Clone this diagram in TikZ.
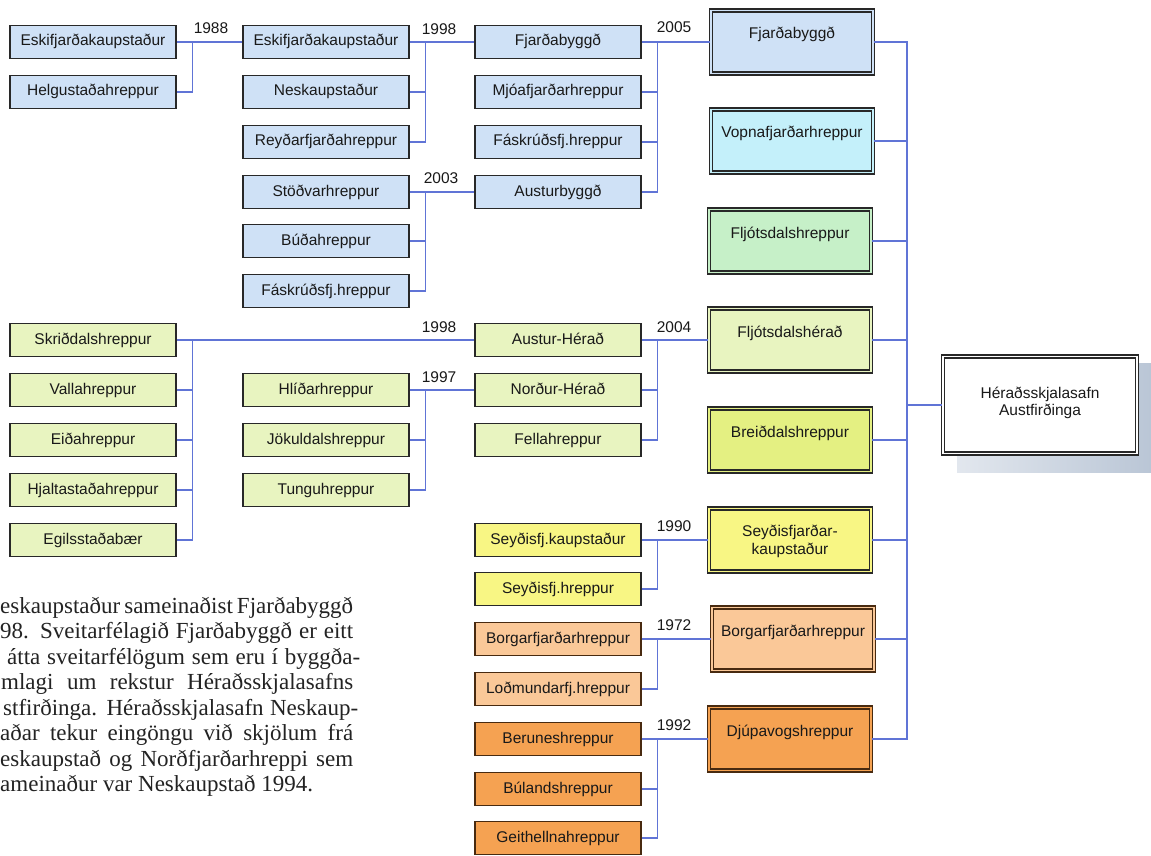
\documentclass[tikz,border=0pt]{standalone}
\usepackage{fontspec}
\setmainfont{Liberation Sans}
\newfontfamily\parfont{Liberation Serif}
\usetikzlibrary{calc}
\definecolor{lineC}{RGB}{96,116,214}
\definecolor{bordC}{RGB}{40,40,40}
\definecolor{bordO}{RGB}{72,42,16}
\definecolor{txtC}{RGB}{25,25,25}
\definecolor{parC}{RGB}{35,35,35}
\definecolor{blueF}{RGB}{207,225,246}
\definecolor{cyanF}{RGB}{196,240,250}
\definecolor{mintF}{RGB}{198,240,200}
\definecolor{lgreenF}{RGB}{232,244,192}
\definecolor{ygreenF}{RGB}{228,240,130}
\definecolor{yellowF}{RGB}{248,246,132}
\definecolor{peachF}{RGB}{250,200,152}
\definecolor{orangeF}{RGB}{245,162,82}
\definecolor{shadeA}{RGB}{226,231,238}
\definecolor{shadeB}{RGB}{186,198,214}
\tikzset{
  lblfont/.style={font=\fontsize{15.5}{17}\selectfont, text=txtC},
  sb/.style={rectangle, draw=bordC, line width=1.5pt, minimum width=166pt,
    minimum height=33pt, inner sep=0pt, fill=#1, lblfont,
    text height=11pt, text depth=3pt},
  sbo/.style={sb=#1, draw=bordO},
  bb/.style={rectangle, draw=bordC, line width=1.3pt, double=#1,
    double distance=1.6pt, fill=#1, minimum width=162pt,
    minimum height=63pt, inner sep=0pt},
  bbo/.style={bb=#1, draw=bordO},
  bt/.style={lblfont, inner sep=0pt, text height=11pt, text depth=3pt},
  bt2/.style={lblfont, inner sep=0pt, align=center,
    font=\fontsize{15.5}{18}\selectfont},
  conn/.style={draw=lineC, line width=1.2pt},
  yr/.style={lblfont, inner sep=0pt},
  pline/.style={font=\parfont\fontsize{23}{25}\selectfont, text=parC,
    inner sep=0pt, anchor=base west}
}
\begin{document}
\begin{tikzpicture}[x=1pt,y=-1pt]
\useasboundingbox (0,0) rectangle (1151,856);
\clip (0,0) rectangle (1151,856);
\fill[white] (0,0) rectangle (1151,856);

% column 1 (top)
\node[sb=blueF] (a1) at (93,42) {Eskifjarðakaupstaður};
\node[sb=blueF] (a2) at (93,92) {Helgustaðahreppur};
% column 2 (top)
\node[sb=blueF] (b1) at (326,42) {Eskifjarðakaupstaður};
\node[sb=blueF] (b2) at (326,92) {Neskaupstaður};
\node[sb=blueF] (b3) at (326,142) {Reyðarfjarðahreppur};
\node[sb=blueF] (b4) at (326,192) {Stöðvarhreppur};
\node[sb=blueF] (b5) at (326,241) {Búðahreppur};
\node[sb=blueF] (b6) at (326,291) {Fáskrúðsfj.hreppur};
% column 3 (top)
\node[sb=blueF] (c1) at (558,42) {Fjarðabyggð};
\node[sb=blueF] (c2) at (558,92) {Mjóafjarðarhreppur};
\node[sb=blueF] (c3) at (558,142) {Fáskrúðsfj.hreppur};
\node[sb=blueF] (c4) at (558,192) {Austurbyggð};

% lower left green
\node[sb=lgreenF] (g1) at (93,340) {Skriðdalshreppur};
\node[sb=lgreenF] (g2) at (93,390) {Vallahreppur};
\node[sb=lgreenF] (g3) at (93,440) {Eiðahreppur};
\node[sb=lgreenF] (g4) at (93,490) {Hjaltastaðahreppur};
\node[sb=lgreenF] (g5) at (93,540) {Egilsstaðabær};
\node[sb=lgreenF] (m1) at (326,390) {Hlíðarhreppur};
\node[sb=lgreenF] (m2) at (326,440) {Jökuldalshreppur};
\node[sb=lgreenF] (m3) at (326,490) {Tunguhreppur};
\node[sb=lgreenF] (h1) at (558,340) {Austur-Hérað};
\node[sb=lgreenF] (h2) at (558,390) {Norður-Hérað};
\node[sb=lgreenF] (h3) at (558,440) {Fellahreppur};

% lower yellow / orange
\node[sb=yellowF] (s1) at (558,540) {Seyðisfj.kaupstaður};
\node[sb=yellowF] (s2) at (558,589) {Seyðisfj.hreppur};
\node[sbo=peachF] (o1) at (558,639) {Borgarfjarðarhreppur};
\node[sbo=peachF] (o2) at (558,689) {Loðmundarfj.hreppur};
\node[sbo=orangeF] (r1) at (558,739) {Beruneshreppur};
\node[sbo=orangeF] (r2) at (558,789) {Búlandshreppur};
\node[sbo=orangeF] (r3) at (558,838) {Geithellnahreppur};

% big boxes
\node[bb=blueF] (D1) at (792,42) {};
\node[bb=cyanF] (D2) at (792,141) {};
\node[bb=mintF] (D3) at (790,241) {};
\node[bb=lgreenF] (D4) at (790,340) {};
\node[bb=ygreenF] (D5) at (790,440) {};
\node[bb=yellowF] (D6) at (790,540) {};
\node[bbo=peachF] (D7) at (793,639) {};
\node[bbo=orangeF] (D8) at (790,739) {};
\node[bt] (t1) at ($(D1)+(0,-7)$) {Fjarðabyggð};
\node[bt] (t2) at ($(D2)+(0,-7)$) {Vopnafjarðarhreppur};
\node[bt] (t3) at ($(D3)+(0,-7)$) {Fljótsdalshreppur};
\node[bt] (t4) at ($(D4)+(0,-7)$) {Fljótsdalshérað};
\node[bt] (t5) at ($(D5)+(0,-7)$) {Breiðdalshreppur};
\node[bt2] (t6) at ($(D6)+(0,1)$) {Seyðisfjarðar-\\kaupstaður};
\node[bt] (t7) at ($(D7)+(0,-7)$) {Borgarfjarðarhreppur};
\node[bt] (t8) at ($(D8)+(0,-7)$) {Djúpavogshreppur};

% final node with shadow
\shade[left color=shadeA, right color=shadeB] (957,363) rectangle (1151,472);
\node[bb=white, minimum width=194pt, minimum height=97pt] (F) at (1040,405) {};
\node[bt2, font=\fontsize{15.5}{16.5}\selectfont] (tF) at ($(F)+(0,-2)$) {Héraðsskjalasafn\\Austfirðinga};

% connectors
\draw[conn] (a1.east) -- (b1.west);
\draw[conn] (a2.east) -| ($(a1.east)+(16,0)$);
\draw[conn] (b1.east) -- (c1.west);
\draw[conn] (b2.east) -| ($(b1.east)+(16,0)$);
\draw[conn] (b3.east) -| ($(b1.east)+(16,0)$);
\draw[conn] (b4.east) -- (c4.west);
\draw[conn] (b5.east) -| ($(b4.east)+(16,0)$);
\draw[conn] (b6.east) -| ($(b4.east)+(16,0)$);
\draw[conn] (c1.east) -- (D1.west);
\draw[conn] (c2.east) -| ($(c1.east)+(16,0)$);
\draw[conn] (c3.east) -| ($(c1.east)+(16,0)$);
\draw[conn] (c4.east) -| ($(c1.east)+(16,0)$);

\draw[conn] (g1.east) -- (h1.west);
\draw[conn] (g2.east) -| ($(g1.east)+(16,0)$);
\draw[conn] (g3.east) -| ($(g1.east)+(16,0)$);
\draw[conn] (g4.east) -| ($(g1.east)+(16,0)$);
\draw[conn] (g5.east) -| ($(g1.east)+(16,0)$);
\draw[conn] (m1.east) -- (h2.west);
\draw[conn] (m2.east) -| ($(m1.east)+(16,0)$);
\draw[conn] (m3.east) -| ($(m1.east)+(16,0)$);
\draw[conn] (h1.east) -- (h1.east -| D4.west);
\draw[conn] (h2.east) -| ($(h1.east)+(16,0)$);
\draw[conn] (h3.east) -| ($(h1.east)+(16,0)$);

\draw[conn] (s1.east) -- (s1.east -| D6.west);
\draw[conn] (s2.east) -| ($(s1.east)+(16,0)$);
\draw[conn] (o1.east) -- (o1.east -| D7.west);
\draw[conn] (o2.east) -| ($(o1.east)+(16,0)$);
\draw[conn] (r1.east) -- (r1.east -| D8.west);
\draw[conn] (r2.east) -| ($(r1.east)+(16,0)$);
\draw[conn] (r3.east) -| ($(r1.east)+(16,0)$);

\coordinate (bus) at (907,405);
\foreach \i in {1,...,8} { \draw[conn] (D\i.east) -| (bus); }
\draw[conn] (bus) -- (F.west);

% year labels
\node[yr] (y1988) at (211,28) {1988};
\node[yr] (y1998a) at (439,29) {1998};
\node[yr] (y2003) at (441,178) {2003};
\node[yr] (y2005) at (674,27) {2005};
\node[yr] (y1998b) at (439,327) {1998};
\node[yr] (y1997) at (439,377) {1997};
\node[yr] (y2004) at (674,327) {2004};
\node[yr] (y1990) at (674,526) {1990};
\node[yr] (y1972) at (674,625) {1972};
\node[yr] (y1992) at (674,725) {1992};

% paragraph
\node[pline] (p1) at (0,613) {\makebox[353pt][s]{eskaupstaður sameinaðist Fjarðabyggð}};
\node[pline] (p2) at (0,638) {\makebox[353pt][s]{98. Sveitarfélagið Fjarðabyggð er eitt}};
\node[pline] (p3) at (7,664) {\makebox[353pt][s]{átta sveitarfélögum sem eru í byggða-}};
\node[pline] (p4) at (1,689) {\makebox[352pt][s]{mlagi um rekstur Héraðsskjalasafns}};
\node[pline] (p5) at (3,715) {\makebox[355pt][s]{stfirðinga. Héraðsskjalasafn Neskaup-}};
\node[pline] (p6) at (0,740) {\makebox[353pt][s]{aðar tekur eingöngu við skjölum frá}};
\node[pline] (p7) at (0,766) {\makebox[353pt][s]{eskaupstað og Norðfjarðarhreppi sem}};
\node[pline] (p8) at (0,791) {ameinaður var Neskaupstað 1994.};
\end{tikzpicture}
\end{document}
